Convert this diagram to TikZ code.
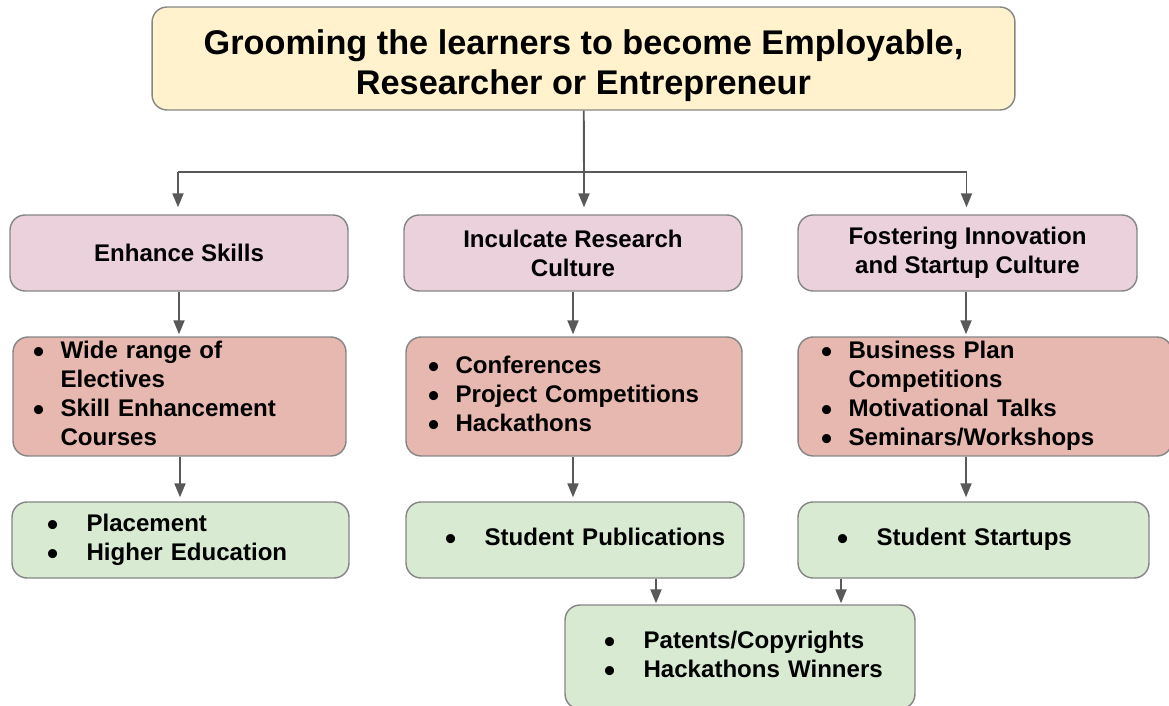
\documentclass[tikz,border=0pt]{standalone}
\usepackage{fontspec}
\setmainfont{Liberation Sans}
\usetikzlibrary{arrows.meta}

\definecolor{titlefill}{HTML}{FFF2CC}
\definecolor{headfill}{HTML}{EAD1DC}
\definecolor{listfill}{HTML}{E6B8AF}
\definecolor{outfill}{HTML}{D9EAD3}
\definecolor{edgegray}{HTML}{858585}
\definecolor{arrowgray}{HTML}{595959}

\newcommand{\boxfont}{\fontsize{13.7}{16.5}\selectfont\bfseries}
\newcommand{\dotb}{\raisebox{-2.2pt}{\fontsize{18}{16.5}\selectfont\textbullet}}
\newcommand{\redlist}[1]{\begin{tabular}{@{}l@{\hspace{0.33cm}}l@{}}#1\end{tabular}}
\newcommand{\greenlist}[1]{\begin{tabular}{@{}l@{\hspace{0.57cm}}l@{}}#1\end{tabular}}

\tikzset{
	card/.style={draw=edgegray, line width=0.8pt, rounded corners=0.3cm, font=\boxfont},
	titlebox/.style={card, fill=titlefill, minimum width=17.26cm, minimum height=2.06cm,
		align=center, font=\fontsize{19.5}{22.7}\selectfont\bfseries},
	headbox/.style={card, fill=headfill, minimum height=1.52cm, align=center},
	listbox/.style={card, fill=listfill, minimum height=2.38cm, inner ysep=0pt, align=left},
	outbox/.style={card, fill=outfill, minimum height=1.52cm, inner ysep=0pt, align=left},
	arr/.style={draw=arrowgray, line width=1.1pt, -{Triangle[length=0.28cm,width=0.22cm]}},
	link/.style={draw=arrowgray, line width=1.1pt}
}

\begin{document}
\begin{tikzpicture}[x=0.02cm, y=-0.02cm]
	\useasboundingbox (0,0) rectangle (1169,706);

	\node[titlebox] (title) at (583.5,58.5) {\rule{0pt}{22pt}Grooming the learners to become Employable,\\Researcher or Entrepreneur};
	\coordinate (split) at (584,172);

	\node[headbox, minimum width=6.76cm] (es) at (179,253) {Enhance Skills};
	\node[headbox, minimum width=6.76cm] (irc) at (573,253) {Inculcate Research\\Culture};
	\node[headbox, minimum width=6.78cm] (fis) at (967.5,253) {Fostering Innovation\\and Startup Culture};

	\node[listbox, text width=5.86cm, inner xsep=0.4cm] (esl) at (179.5,396.5) {\redlist{%
		\dotb & Wide range of\\ & Electives\\
		\dotb & Skill Enhancement\\ & Courses}};
	\node[listbox, text width=5.84cm, inner xsep=0.44cm] (ircl) at (574,396.5) {\redlist{%
		\dotb & Conferences\\
		\dotb & Project Competitions\\
		\dotb & Hackathons}};
	\node[listbox, text width=6.56cm, inner xsep=0.46cm] (fisl) at (985,396.5) {\redlist{%
		\dotb & Business Plan\\ & Competitions\\
		\dotb & Motivational Talks\\
		\dotb & Seminars/Workshops}};

	\node[outbox, text width=5.34cm, inner xsep=0.7cm] (esg) at (180.5,540) {\greenlist{%
		\dotb & Placement\\
		\dotb & Higher Education}};
	\node[outbox, text width=5.2cm, inner xsep=0.78cm] (ircg) at (575,540) {\greenlist{%
		\dotb & Student Publications}};
	\node[outbox, text width=5.46cm, inner xsep=0.78cm] (fisg) at (973.5,540) {\greenlist{%
		\dotb & Student Startups}};

	\node[outbox, text width=5.44cm, inner xsep=0.78cm, minimum height=2.08cm] (pat) at (740,657) {\greenlist{%
		\dotb & Patents/Copyrights\\
		\dotb & Hackathons Winners}};

	\draw[link] (title) -- (split);
	\draw[link] ([xshift=-0.02cm]es.north |- split) -- ([xshift=-0.02cm]fis.north |- split);
	\draw[arr, shorten >=0.14cm] ([xshift=-0.02cm]es.north |- split) -- ([xshift=-0.02cm]es.north);
	\draw[arr, shorten >=0.14cm] ([xshift=0.22cm]irc.north |- split) -- ([xshift=0.22cm]irc.north);
	\draw[arr, shorten >=0.14cm] ([xshift=-0.02cm]fis.north |- split) -- ([xshift=-0.02cm]fis.north);

	\draw[arr, shorten >=0.04cm] (es.south) -- (es.south |- esl.north);
	\draw[arr, shorten >=0.04cm] (irc.south) -- (irc.south |- ircl.north);
	\draw[arr, shorten >=0.04cm] ([xshift=-0.03cm]fis.south) -- ([xshift=-0.03cm]fis.south |- fisl.north);

	\draw[arr, shorten >=0.08cm] ([xshift=0.02cm]es.south |- esl.south) -- ([xshift=0.02cm]es.south |- esg.north);
	\draw[arr, shorten >=0.08cm] (irc.south |- ircl.south) -- (irc.south |- ircg.north);
	\draw[arr, shorten >=0.08cm] ([xshift=-0.03cm]fis.south |- fisl.south) -- ([xshift=-0.03cm]fis.south |- fisg.north);

	\draw[arr, shorten >=0.02cm] ([xshift=1.62cm]ircg.south) -- ([xshift=1.62cm]ircg.south |- pat.north);
	\draw[arr, shorten >=0.02cm] ([xshift=-2.65cm]fisg.south) -- ([xshift=-2.65cm]fisg.south |- pat.north);
\end{tikzpicture}
\end{document}
